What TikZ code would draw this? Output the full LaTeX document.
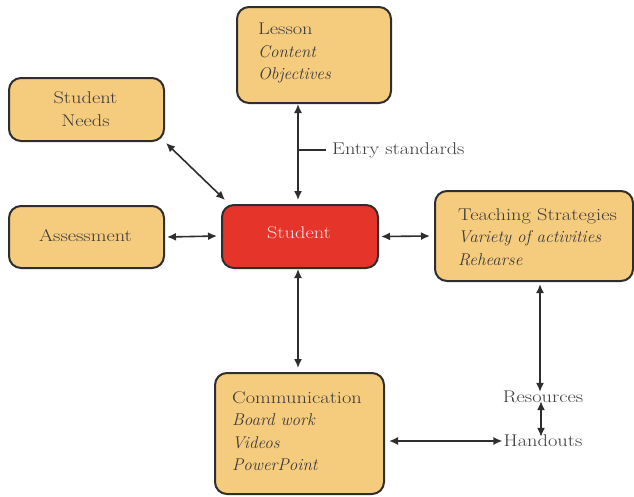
\documentclass[tikz,border=0pt]{standalone}
\usepackage{fontspec}
\setmainfont{Latin Modern Roman}[UprightFeatures={FakeStretch=1.2},ItalicFeatures={FakeStretch=1.0}]
\usetikzlibrary{arrows.meta}
\definecolor{boxfill}{HTML}{F5CB7E}
\definecolor{boxline}{HTML}{2E2E2E}
\definecolor{hubfill}{HTML}{E5352B}
\definecolor{inktext}{HTML}{3C3C3C}
\begin{document}
\begin{tikzpicture}[x=1pt,y=-1pt,
  box/.style={draw=boxline, line width=2pt, fill=boxfill, rounded corners=12pt,
    anchor=north west, inner sep=0pt},
  hub/.style={draw=boxline, line width=2pt, fill=hubfill, rounded corners=12pt,
    anchor=north west, inner sep=0pt},
  txt/.style={text=inktext, font=\fontsize{17}{22.5}\selectfont, inner sep=0pt, align=left},
  link/.style={draw=boxline, line width=1.6pt, {Latex[length=9pt,width=8pt]}-{Latex[length=9pt,width=8pt]}},
  one/.style={draw=boxline, line width=1.6pt}]
\useasboundingbox (0,0) rectangle (634,496);

% boxes
\node[box, minimum width=154pt, minimum height=96pt] (lesson) at (236,6) {};
\node[box, minimum width=155pt, minimum height=63pt] (needs) at (8,77) {};
\node[box, minimum width=155pt, minimum height=62pt] (assess) at (8,205) {};
\node[hub, minimum width=156pt, minimum height=63pt] (student) at (221,204) {};
\node[box, minimum width=198pt, minimum height=90pt] (teach) at (434,190) {};
\node[box, minimum width=169pt, minimum height=121pt] (comm) at (214,372) {};

% box texts
\node[txt, anchor=west] (lessontxt) at (258,53) {Lesson\\\textit{Content}\\\textit{Objectives}};
\node[txt, align=center] (needstxt) at (85.5,109) {Student\\Needs};
\node[txt] (assesstxt) at (85.5,236) {Assessment};
\node[txt, text=white!85!hubfill] (studenttxt) at (299,233) {Student};
\node[txt, anchor=west] (teachtxt) at (458,237) {Teaching Strategies\\\textit{Variety of activities}\\\textit{Rehearse}};
\node[txt, anchor=west] (commtxt) at (232,431) {Communication\\\textit{Board work}\\\textit{Videos}\\\textit{PowerPoint}};

% free labels
\node[txt, anchor=west] (entry) at (332,150) {Entry standards};
\node[txt] (res) at (543,397) {Resources};
\node[txt] (hand) at (543,441) {Handouts};

% connectors
\draw[link] (298,104) -- (298,200);
\coordinate (tick) at (298,150);
\draw[one] (tick) -- ([xshift=-6pt]entry.west);
\draw[link] (needs.south east) ++(1,1) -- (225,200);
\draw[link] (assess.east) ++(2,0) -- (217,236);
\draw[link] (student.east) ++(2,0) -- (430,236);
\draw[link] (298,269) -- (298,368);
\draw[link] (540,284) -- ([xshift=-3pt,yshift=-1pt]res.north);
\draw[link] ([xshift=-2pt,yshift=2pt]res.south) -- ([xshift=-2pt,yshift=-2pt]hand.north);
\draw[link] (comm.east |- hand.west) ++(4,0) -- ([xshift=-1pt]hand.west);
\end{tikzpicture}
\end{document}
